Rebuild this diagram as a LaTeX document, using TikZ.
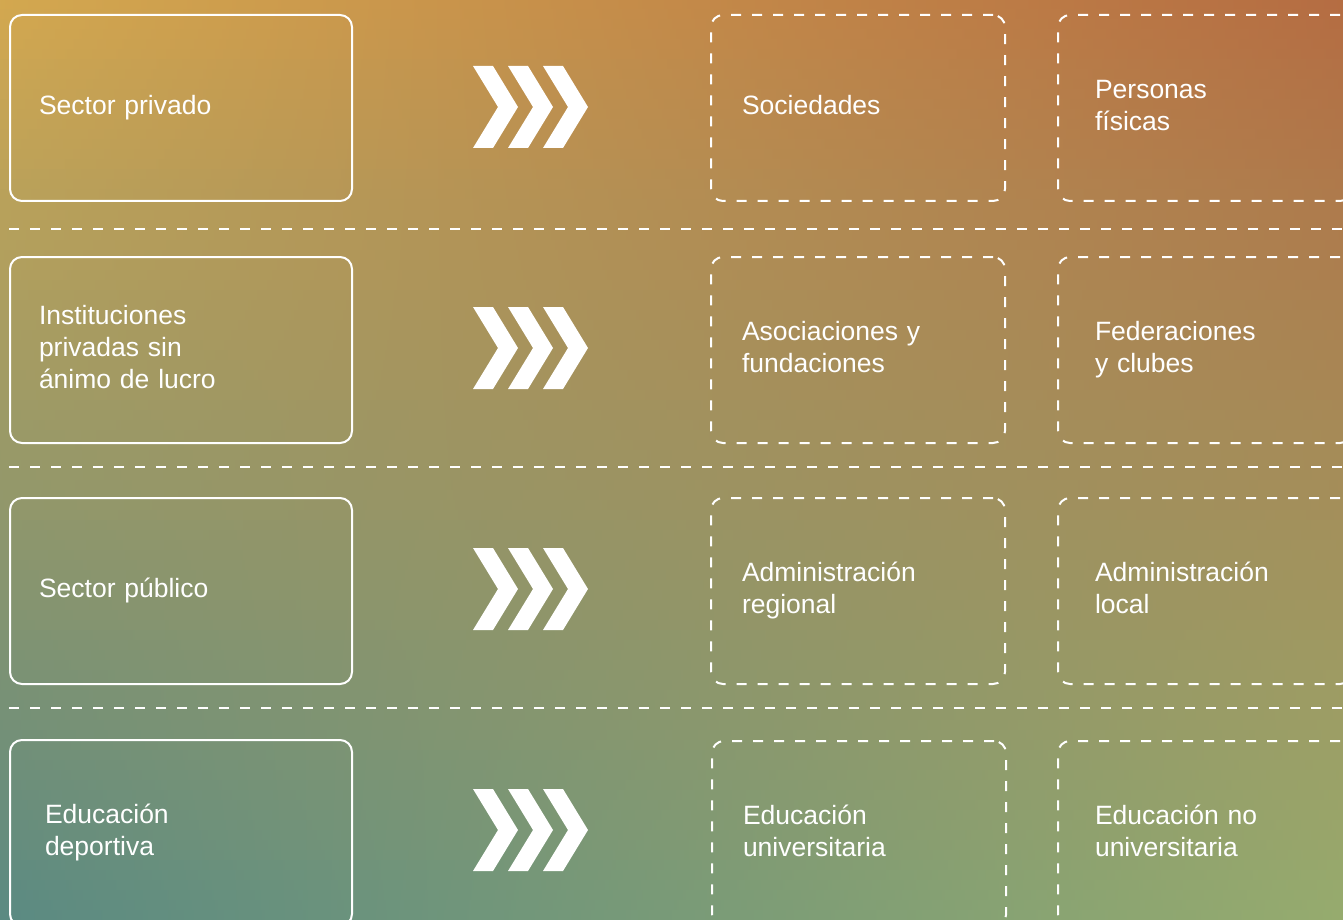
\documentclass[tikz,border=0pt]{standalone}
\usepackage{fontspec}
\setmainfont{Liberation Sans}
\definecolor{cTL}{HTML}{D4A84F}
\definecolor{cTR}{HTML}{B56C42}
\definecolor{cBL}{HTML}{5B8A82}
\definecolor{cBR}{HTML}{96AB6E}
\begin{document}
\begin{tikzpicture}[x=1pt,y=-1pt,
  lbl/.style={text=white, font=\fontsize{26.5}{32}\selectfont, align=left, inner ysep=0pt, anchor=north west, minimum height=186pt,
    execute at begin node=\strut, execute at end node=\strut},
  solidbox/.style={lbl, draw=white, line width=2pt, rounded corners=12pt, minimum width=342pt, text width=284pt, inner xsep=29pt},
  dashbox/.style={lbl, draw=white, line width=2pt, dash pattern=on 10pt off 11pt, rounded corners=12pt, minimum width=294pt},
  dashA/.style={dashbox, inner xsep=31pt, text width=232pt},
  dashB/.style={dashbox, inner xsep=37pt, text width=220pt},
  sepline/.style={draw=white, line width=2pt, dash pattern=on 10pt off 11pt},
  chev/.style={fill=white}
]
\useasboundingbox (0,0) rectangle (1343,920);
% background gradient
\foreach \i in {0,...,91}{
  \pgfmathtruncatemacro\p{100-(\i+0.5)*100/92}
  \colorlet{lc}{cTL!\p!cBL}
  \colorlet{rc}{cTR!\p!cBR}
  \shade[left color=lc, right color=rc] (0,\i*10) rectangle (1343,\i*10+10.6);
}
% left boxes
\node[solidbox] (s1) at (9,14) {Sector privado};
\node[solidbox] (s2) at (9,256) {Instituciones\\privadas sin\\ánimo de lucro};
\node[solidbox] (s3) at (9,497) {Sector público};
\node[solidbox, inner xsep=35pt, text width=272pt] (s4) at (9,739) {Educación\\deportiva};
% right boxes
\node[dashA] (a1) at (710,14) {Sociedades};
\node[dashB] (b1) at (1057,14) {Personas\\físicas};
\node[dashA] (a2) at (710,256) {Asociaciones y\\fundaciones};
\node[dashB] (b2) at (1057,256) {Federaciones\\y clubes};
\node[dashA] (a3) at (710,497) {Administración\\regional};
\node[dashB] (b3) at (1057,497) {Administración\\local};
\node[dashA] (a4) at (711,740) {Educación\\universitaria};
\node[dashB] (b4) at (1057,740) {Educación no\\universitaria};
% separators
\coordinate (l1) at (9,229); \coordinate (r1) at (1343,229);
\coordinate (l2) at (9,467); \coordinate (r2) at (1343,467);
\coordinate (l3) at (9,708); \coordinate (r3) at (1343,708);
\draw[sepline] (l1) -- (r1);
\draw[sepline] (l2) -- (r2);
\draw[sepline] (l3) -- (r3);
% chevrons
\foreach \cy in {107,348,589,830}{
  \foreach \x in {473,508,543}{
    \fill[chev] (\x,\cy-41) -- ++(20,0) -- ++(25,41) -- ++(-25,41) -- ++(-20,0) -- ++(25,-41) -- cycle;
  }
}
\end{tikzpicture}
\end{document}
